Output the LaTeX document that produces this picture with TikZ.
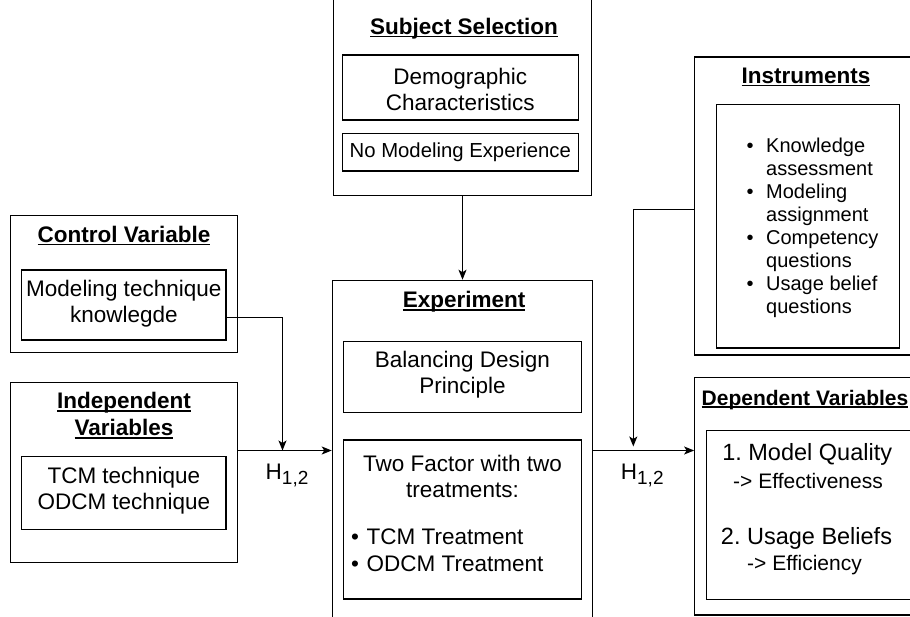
\documentclass[tikz,border=0pt]{standalone}
\usepackage{fontspec}
\setmainfont{Liberation Sans}
\usetikzlibrary{arrows.meta,fit}
\newcommand\myul[1]{\setbox0\hbox{#1}\rlap{\rule[-2.8pt]{\wd0}{1.4pt}}\box0}
\frenchspacing
\begin{document}
\begin{tikzpicture}[x=1pt,y=-1pt,
  box/.style={draw=black, line width=1.15pt, inner sep=0pt},
  txt/.style={font=\fontsize{22.5}{26}\selectfont, align=center, inner sep=0pt},
  smalltxt/.style={font=\fontsize{20}{23}\selectfont, align=left, inner sep=0pt},
  deptxt/.style={font=\fontsize{23.5}{27}\selectfont, inner sep=0pt, anchor=base},
  subtxt/.style={font=\fontsize{21}{24}\selectfont, inner sep=0pt, anchor=base},
  ttl/.style={font=\fontsize{22.5}{27}\selectfont\bfseries, align=center, inner sep=0pt},
  arr/.style={line width=1.15pt, -{Stealth[length=10pt,width=8pt,inset=2.5pt]}},
  hlab/.style={font=\fontsize{22.5}{26}\selectfont, inner sep=0pt, anchor=base west}
]
\useasboundingbox[fill=white] (0,0) rectangle (910,617);

% Control Variable
\node[box, fit={(10.7,215.7) (237.7,352.3)}] (ctrl) {};
\node[ttl] (ctrlt) at (124,235.7) {\myul{Control Variable}};
\node[box, fit={(21.7,270) (226,340)}] (ctrlin) {};
\node[txt] (ctrltx) at (123.8,304) {Modeling technique\\knowlegde};

% Independent Variables
\node[box, fit={(10.7,382.7) (237.7,562.7)}] (indep) {};
\node[ttl] (indept) at (124,415.5) {\myul{Independent}\\\myul{Variables}};
\node[box, fit={(21.7,456.7) (226,529.3)}] (indepin) {};
\node[txt] (indeptx) at (123.8,491) {TCM technique\\ODCM technique};

% Subject Selection
\node[box, fit={(333.3,-10) (591.7,195.7)}] (subj) {};
\node[ttl] (subjt) at (464,28.3) {\myul{Subject Selection}};
\node[box, fit={(342.3,55) (578.3,120)}] (demo) {};
\node[txt] (demotx) at (460.3,89) {Demographic\\Characteristics};
\node[box, fit={(342.3,133.3) (578.3,171)}] (nomod) {};
\node[txt, font=\fontsize{20.3}{24}\selectfont] (nomodtx) at (460.3,152.5) {No Modeling Experience};

% Experiment
\node[box, fit={(332.3,280.3) (592.7,640)}] (exp) {};
\node[ttl] (expt) at (464.2,302) {\myul{Experiment}};
\node[box, fit={(343.3,341.7) (581.7,412.7)}] (bal) {};
\node[txt] (baltx) at (462.5,375) {Balancing Design\\Principle};
\node[box, fit={(343.3,440) (581.7,599)}] (two) {};
\node[txt] (twotx) at (462.5,476) {Two Factor with two\\treatments:};
\node[txt, align=left, anchor=west] (twobul) at (351,550.3)
  {\makebox[15.5pt][l]{•}TCM Treatment\\[1pt]\makebox[15.5pt][l]{•}ODCM Treatment};

% Instruments
\node[box, fit={(694.5,57) (922,355)}] (instr) {};
\node[ttl] (instrt) at (806,77) {\myul{Instruments}};
\node[box, fit={(716.5,104.5) (899.3,348)}] (instrin) {};
\node[smalltxt, anchor=west] (instrtx) at (746.5,228)
  {\makebox[19.5pt][l]{•}Knowledge\\\hspace*{19.5pt}assessment\\
   \makebox[19.5pt][l]{•}Modeling\\\hspace*{19.5pt}assignment\\
   \makebox[19.5pt][l]{•}Competency\\\hspace*{19.5pt}questions\\
   \makebox[19.5pt][l]{•}Usage belief\\\hspace*{19.5pt}questions};

% Dependent Variables
\node[box, fit={(694.7,377.7) (925,615)}] (dep) {};
\node[font=\fontsize{21}{25}\selectfont\bfseries, inner sep=0pt, anchor=base west] (dept) at (701.5,405) {\myul{Dependent Variables}};
\node[box, fit={(706.5,430.5) (912,599.3)}] (depin) {};
\node[deptxt] (dep1) at (807.2,460.5) {1. Model Quality};
\node[subtxt] (dep1b) at (808,488.3) {-> Effectiveness};
\node[deptxt] (dep2) at (806.5,544) {2. Usage Beliefs};
\node[subtxt] (dep2b) at (804.5,570) {-> Efficiency};

% Connectors
\coordinate (j1) at (282.5,450.5);
\coordinate (j2) at (633.3,450.5);
\coordinate (instrout) at (694.5,209.3);
\draw[arr] ([yshift=-12.3pt]ctrlin.east) -| (j1);
\draw[arr] (indep.east |- j1) -- (exp.west |- j1);
\draw[arr] (subj.south) -- (exp.north);
\draw[arr] (exp.east |- j2) -- (dep.west |- j2);
\draw[arr] (instrout) -| ([yshift=4pt]j2);

% Hypothesis labels
\node[hlab] (h1) at (265.5,479.3) {H\raisebox{-5.5pt}{\fontsize{19}{19}\selectfont 1,2}};
\node[hlab] (h2) at (620.7,479.3) {H\raisebox{-5.5pt}{\fontsize{19}{19}\selectfont 1,2}};
\end{tikzpicture}
\end{document}
